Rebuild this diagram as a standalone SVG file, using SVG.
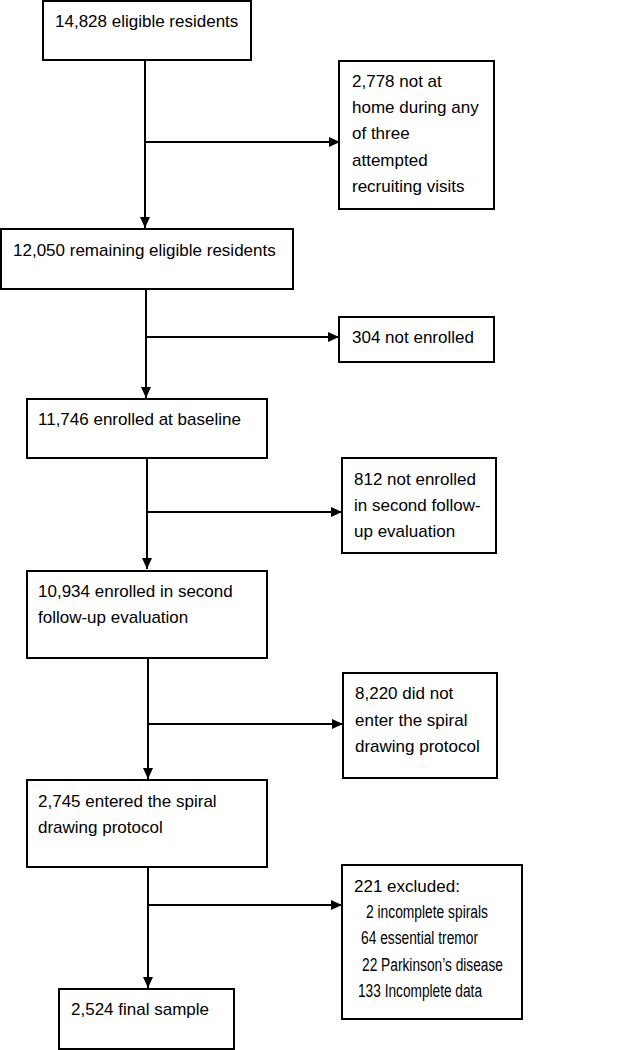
<svg xmlns="http://www.w3.org/2000/svg" width="627" height="1050" viewBox="0 0 627 1050">
<style>
.box{fill:#fff;stroke:#000;stroke-width:2}
.t{font-family:"Liberation Sans",Arial,sans-serif;font-size:17px;fill:#000}
.n{font-size:18px}
.c{fill:none;stroke:#000;stroke-width:2}
</style>
<defs>
<marker id="ah" markerUnits="userSpaceOnUse" markerWidth="12" markerHeight="10" refX="11" refY="5" orient="auto">
<path d="M0,0 L11,5 L0,10 Z" fill="#000"/>
</marker>
</defs>
<rect width="627" height="1050" fill="#fff"/>
<g id="connectors">
<path class="c" d="M145,60 V228" marker-end="url(#ah)"/>
<path class="c" d="M145,142 H340" marker-end="url(#ah)"/>
<path class="c" d="M146,289 V398" marker-end="url(#ah)"/>
<path class="c" d="M146,337 H339" marker-end="url(#ah)"/>
<path class="c" d="M147,458 V569" marker-end="url(#ah)"/>
<path class="c" d="M147,512 H342" marker-end="url(#ah)"/>
<path class="c" d="M148,658 V779" marker-end="url(#ah)"/>
<path class="c" d="M148,724 H343" marker-end="url(#ah)"/>
<path class="c" d="M148,867 V988" marker-end="url(#ah)"/>
<path class="c" d="M148,905 H342" marker-end="url(#ah)"/>
</g>
<g id="n1"><rect class="box" x="43" y="1" width="208" height="59"/><text class="t" x="55" y="27">14,828 eligible residents</text></g>
<g id="n2"><rect class="box" x="339" y="61" width="155" height="148"/>
<text class="t" x="352" y="87">2,778 not at</text>
<text class="t" x="352" y="113">home during any</text>
<text class="t" x="352" y="139">of three</text>
<text class="t" x="352" y="166">attempted</text>
<text class="t" x="352" y="192">recruiting visits</text></g>
<g id="n3"><rect class="box" x="1" y="229" width="292" height="60"/><text class="t" x="13" y="256">12,050 remaining eligible residents</text></g>
<g id="n4"><rect class="box" x="339" y="317" width="155" height="45"/><text class="t" x="352" y="343">304 not enrolled</text></g>
<g id="n5"><rect class="box" x="27" y="399" width="240" height="59"/><text class="t" x="38" y="425">11,746 enrolled at baseline</text></g>
<g id="n6"><rect class="box" x="342" y="458" width="154" height="95"/>
<text class="t" x="354" y="485">812 not enrolled</text>
<text class="t" x="354" y="511">in second follow-</text>
<text class="t" x="354" y="537">up evaluation</text></g>
<g id="n7"><rect class="box" x="27" y="571" width="240" height="87"/>
<text class="t" x="38" y="597">10,934 enrolled in second</text>
<text class="t" x="38" y="623">follow-up evaluation</text></g>
<g id="n8"><rect class="box" x="343" y="673" width="154" height="105"/>
<text class="t" x="355" y="699">8,220 did not</text>
<text class="t" x="355" y="726">enter the spiral</text>
<text class="t" x="355" y="752">drawing protocol</text></g>
<g id="n9"><rect class="box" x="27" y="780" width="240" height="87"/>
<text class="t" x="38" y="807">2,745 entered the spiral</text>
<text class="t" x="38" y="833">drawing protocol</text></g>
<g id="n10"><rect class="box" x="342" y="865" width="180" height="154"/>
<text class="t" x="354" y="892">221 excluded:</text>
<text class="t n" x="366" y="918" textLength="122" lengthAdjust="spacingAndGlyphs">2 incomplete spirals</text>
<text class="t n" x="361" y="944" textLength="117" lengthAdjust="spacingAndGlyphs">64 essential tremor</text>
<text class="t n" x="362" y="971" textLength="141" lengthAdjust="spacingAndGlyphs">22 Parkinson’s disease</text>
<text class="t n" x="358" y="997" textLength="124" lengthAdjust="spacingAndGlyphs">133 Incomplete data</text></g>
<g id="n11"><rect class="box" x="59" y="989" width="175" height="60"/><text class="t" x="71" y="1015">2,524 final sample</text></g>
</svg>
